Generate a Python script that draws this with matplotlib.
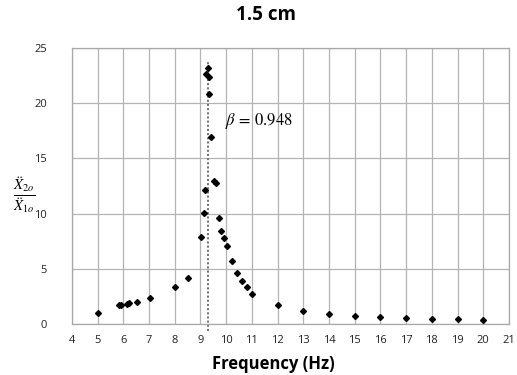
import matplotlib
matplotlib.use("Agg")
import matplotlib.pyplot as plt

freq = [5.02, 5.82, 5.92, 6.13, 6.22, 6.53, 7.02, 8.0, 8.5, 9.02, 9.12, 9.16,
        9.29, 9.23, 9.33, 9.33, 9.41, 9.53, 9.61, 9.71, 9.81, 9.91, 10.02,
        10.21, 10.42, 10.61, 10.82, 11.02, 12.0, 13.0, 14.0, 15.0, 16.0, 17.0,
        18.0, 19.0, 20.0]
ratio = [1.03, 1.72, 1.72, 1.84, 1.93, 1.96, 2.36, 3.32, 4.2, 7.88, 10.05, 12.17,
         23.19, 22.67, 22.4, 20.83, 16.97, 12.95, 12.74, 9.6, 8.45, 7.76, 7.07,
         5.73, 4.62, 3.92, 3.38, 2.72, 1.72, 1.18, 0.91, 0.72, 0.63, 0.54,
         0.48, 0.42, 0.36]
f_res = 9.28
beta_text = r"$\beta\,=\,0.948$"
xticks = list(range(4, 22))
yticks = [0, 5, 10, 15, 20, 25]

plt.rcParams['mathtext.fontset'] = 'stix'
fig = plt.figure(figsize=(5.17, 3.75), dpi=100)
ax = fig.add_axes([0.139, 0.136, 0.8455, 0.736])
ax.set_xlim(4, 21)
ax.set_ylim(0, 25)
ax.set_xticks(xticks)
ax.set_yticks(yticks)
ax.grid(True, color='#b4b4b4', linewidth=0.9)
ax.set_axisbelow(True)
for s in ax.spines.values():
    s.set_color('#a8a8a8')
    s.set_linewidth(0.9)
ax.tick_params(length=0, labelsize=8, colors='#222222')
ax.tick_params(axis='y', pad=18)
ax.tick_params(axis='x', pad=8)
for lab in ax.get_xticklabels() + ax.get_yticklabels():
    lab.set_family('Open Sans')

ax.plot([f_res, f_res], [-0.6, 23.8], color='#777777', linestyle=(0, (1, 1)),
        linewidth=1.5, clip_on=False, zorder=2)
ax.plot(freq, ratio, linestyle='none', marker='D', markersize=3.0,
        color='black', zorder=3)
ax.text(9.95, 18.4, beta_text, fontsize=12, va='center', ha='left')

fig.text(0.515, 0.96, "1.5 cm", ha='center', va='center', fontsize=13.5,
         fontweight='bold', family='Open Sans')
fig.text(0.528, 0.029, "Frequency (Hz)", ha='center', va='center', fontsize=12,
         fontweight='bold', family='Open Sans')
fig.text(0.047, 0.48, r"$\frac{\ddot{X}_{2o}}{\ddot{X}_{1o}}$", ha='center',
         va='center', fontsize=15)
fig.savefig("out.png", dpi=100)
